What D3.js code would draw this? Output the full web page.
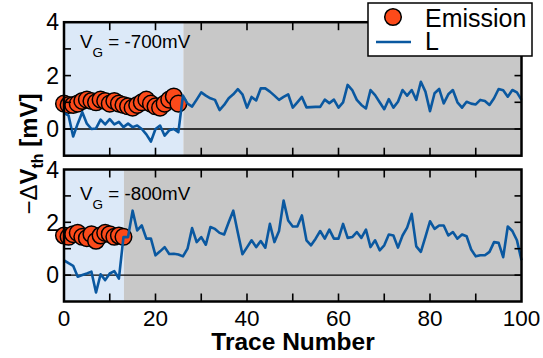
<!DOCTYPE html>
<html><head><meta charset="utf-8">
<script src="https://cdn.jsdelivr.net/npm/d3@7"></script>
<style>body{margin:0;background:#fff}svg{display:block}</style>
</head><body><svg id="c" width="543" height="358"></svg>
<script>
// ---- data ----
const emission700 = [0.95,0.9,0.9,0.95,1.05,1.1,1.05,1.0,1.1,1.05,0.95,1.05,0.95,0.9,0.85,0.8,0.9,1.0,1.1,0.95,0.85,0.8,0.95,1.1,1.22,0.95];
const L700 = [0.6,0.5,-0.28,0.2,0.63,0.2,0.0,0.02,0.35,0.17,0.37,0.17,0.27,0.07,0.2,0.07,0.13,0.0,-0.2,-0.47,0.0,0.13,-0.25,-0.05,0.0,-0.12,
  1.25,0.95,0.84,1.1,1.37,1.25,1.15,1.09,0.71,0.9,1.15,1.3,1.49,1.3,0.8,1.2,1.07,1.52,1.52,1.4,1.25,1.09,1.2,1.3,
  0.8,1.0,1.2,0.81,0.82,0.83,0.83,1.1,0.97,1.1,0.8,1.0,1.65,1.46,1.09,0.9,0.77,1.46,1.27,1.0,
  0.74,1.12,0.8,1.02,1.46,1.25,1.46,1.09,1.77,1.4,0.67,1.34,1.5,0.96,1.3,1.46,1.0,0.8,1.02,0.95,
  0.92,1.09,1.05,0.9,1.15,1.5,1.45,1.21,1.46,1.37,1.09];
const emission800 = [1.5,1.45,1.55,1.6,1.45,1.4,1.55,1.3,1.5,1.6,1.55,1.45,1.5,1.45];
const L800 = [0.56,0.45,0.35,-0.06,0.0,0.06,0.13,-0.66,0.03,-0.19,0.06,0.15,-0.13,1.44,1.44,2.44,1.69,1.88,1.38,1.38,
  0.75,0.9,1.06,0.8,0.81,0.78,0.71,1.0,1.78,1.25,1.44,1.15,1.82,1.75,1.6,1.54,2.0,2.44,1.6,0.79,
  1.05,1.32,1.06,1.29,1.04,1.94,1.25,1.67,2.82,2.07,1.84,1.84,2.26,1.32,1.13,1.38,1.67,1.38,1.72,1.38,
  1.38,1.94,1.41,1.44,1.63,1.41,1.72,1.06,1.32,0.94,1.13,1.54,1.5,1.04,1.5,1.8,2.32,1.09,0.88,1.45,
  2.04,1.75,1.88,1.88,1.5,1.63,1.38,1.54,1.47,0.97,0.71,0.75,0.75,0.88,1.25,1.22,0.68,1.84,1.67,1.32,0.56];
const switch700 = 26.1, switch800 = 13.1;
const gateLabels = ["-700mV", "-800mV"];
const xTickValues = [0,20,40,60,80,100];
const xAllTicks = [10,20,30,40,50,60,70,80,90];
const yTickLabels = [0,2,4];
const yTickMarks = [0,1,2,3];
const xDomain = [0,100], yDomain = [-1,4];

// ---- layout ----
const svg = d3.select("#c");
const FONT = "'Liberation Sans', Arial, Helvetica, sans-serif";
const x = d3.scaleLinear().domain(xDomain).range([64, 521.5]);
const panels = [
  {top: 22.2, bottom: 155.7, em: emission700, L: L700, sw: switch700, gate: gateLabels[0], gy: 48},
  {top: 169.5, bottom: 301.5, em: emission800, L: L800, sw: switch800, gate: gateLabels[1], gy: 200}
];
const lineColor = "#0a58a0", emColor = "#fc4a1a";

panels.forEach((p, pi) => {
  const y = d3.scaleLinear().domain(yDomain).range([p.bottom, p.top]);
  const g = svg.append("g");
  g.append("rect").attr("x", x(0)).attr("y", p.top).attr("width", x(p.sw) - x(0)).attr("height", p.bottom - p.top).attr("fill", "#dce9f8");
  g.append("rect").attr("x", x(p.sw)).attr("y", p.top).attr("width", x(100) - x(p.sw)).attr("height", p.bottom - p.top).attr("fill", "#c8c8c8");
  g.append("line").attr("x1", x(0)).attr("x2", x(100)).attr("y1", y(0)).attr("y2", y(0)).attr("stroke", "#000").attr("stroke-width", 1.4);
  const t = g.append("text").attr("x", 80).attr("y", p.gy).attr("font-family", FONT).attr("font-size", 18.8).attr("fill", "#000");
  t.append("tspan").text("V");
  t.append("tspan").attr("dy", 8.5).attr("font-size", 13.5).text("G");
  t.append("tspan").attr("dy", -8.5).text(" = " + p.gate);
  g.selectAll("circle.em").data(p.em).join("circle")
    .attr("cx", (d, i) => x(i)).attr("cy", d => y(d)).attr("r", 8.3)
    .attr("fill", emColor).attr("stroke", "#000").attr("stroke-width", 1.5);
  g.append("path").datum(p.L)
    .attr("d", d3.line().x((d, i) => x(i)).y(d => y(d)))
    .attr("fill", "none").attr("stroke", lineColor).attr("stroke-width", 2.6).attr("stroke-linejoin", "round");
  const tk = g.append("g").attr("stroke", "#000").attr("stroke-width", 1.6);
  xAllTicks.forEach(v => {
    tk.append("line").attr("x1", x(v)).attr("x2", x(v)).attr("y1", p.bottom).attr("y2", p.bottom - 8);
    tk.append("line").attr("x1", x(v)).attr("x2", x(v)).attr("y1", p.top).attr("y2", p.top + 8);
  });
  yTickMarks.forEach(v => {
    tk.append("line").attr("x1", x(0)).attr("x2", x(0) + 7).attr("y1", y(v)).attr("y2", y(v));
    tk.append("line").attr("x1", x(100)).attr("x2", x(100) - 7).attr("y1", y(v)).attr("y2", y(v));
  });
  g.append("rect").attr("x", x(0)).attr("y", p.top).attr("width", x(100) - x(0)).attr("height", p.bottom - p.top)
    .attr("fill", "none").attr("stroke", "#000").attr("stroke-width", 2.5);
  g.selectAll("text.yl").data(yTickLabels).join("text")
    .attr("x", 59).attr("y", d => y(d)).attr("dy", "0.36em").attr("text-anchor", "end")
    .attr("font-family", FONT).attr("font-size", 23).text(d => d);
  if (pi === 1) {
    g.selectAll("text.xl").data(xTickValues).join("text")
      .attr("x", d => x(d)).attr("y", 326).attr("text-anchor", "middle")
      .attr("font-family", FONT).attr("font-size", 22.5).text(d => d);
  }
});

svg.append("text").attr("x", 293).attr("y", 350).attr("text-anchor", "middle")
  .attr("font-family", FONT).attr("font-size", 24.5).attr("font-weight", "bold").text("Trace Number");
const yl = svg.append("text").attr("transform", "translate(37,154) rotate(-90)").attr("text-anchor", "middle")
  .attr("font-family", FONT).attr("font-size", 24).attr("font-weight", "bold");
yl.append("tspan").attr("font-weight", "normal").text("\u2212\u0394");
yl.append("tspan").text("V");
yl.append("tspan").attr("dy", 6).attr("font-size", 16).text("th");
yl.append("tspan").attr("dy", -6).text(" [mV]");

const lg = svg.append("g");
lg.append("rect").attr("x", 368).attr("y", 3).attr("width", 164).attr("height", 53).attr("fill", "#fff").attr("stroke", "#000").attr("stroke-width", 1.5);
lg.append("circle").attr("cx", 393).attr("cy", 17).attr("r", 8.3).attr("fill", emColor).attr("stroke", "#000").attr("stroke-width", 1.5);
lg.append("line").attr("x1", 376).attr("x2", 411).attr("y1", 42).attr("y2", 42).attr("stroke", lineColor).attr("stroke-width", 2.6);
lg.append("text").attr("x", 425).attr("y", 26.5).attr("font-family", FONT).attr("font-size", 25).text("Emission");
lg.append("text").attr("x", 425).attr("y", 50).attr("font-family", FONT).attr("font-size", 25).text("L");
</script></body></html>
